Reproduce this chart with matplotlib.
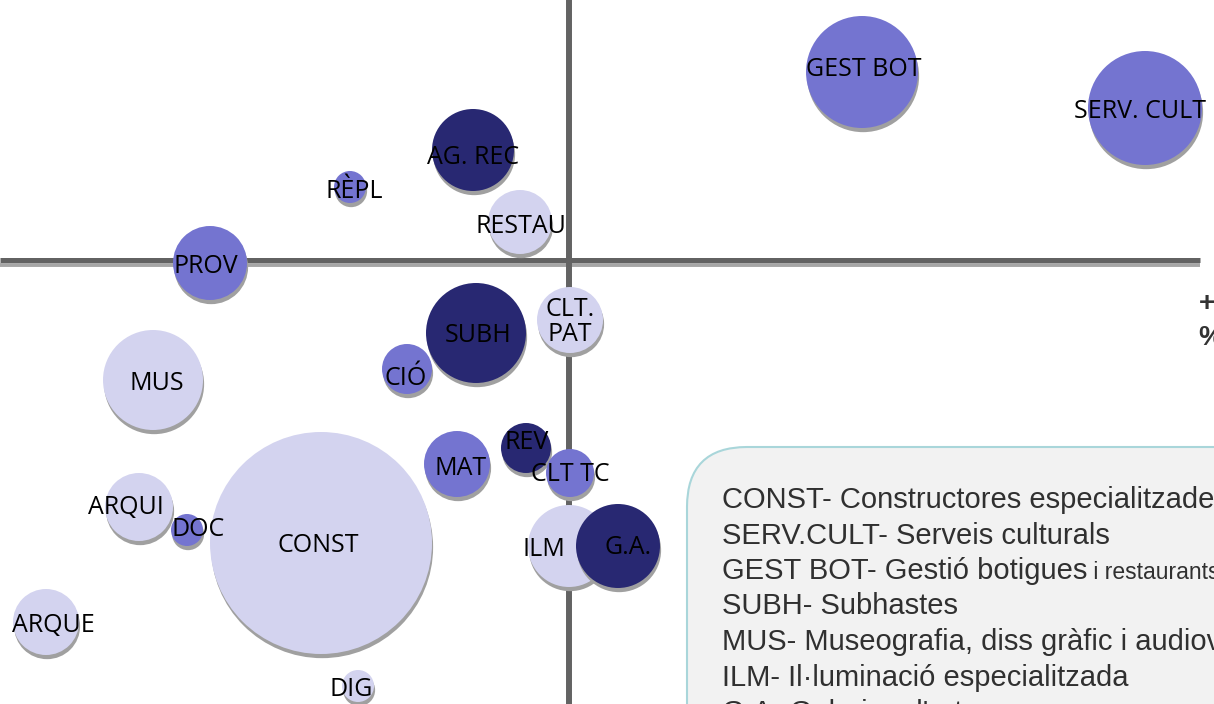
import matplotlib
matplotlib.use("Agg")
import matplotlib.pyplot as plt
from matplotlib.patches import Circle, FancyBboxPatch
from matplotlib.transforms import offset_copy

plt.rcParams['font.family'] = ['Open Sans', 'DejaVu Sans']

# bubble data (x, y relative to the quadrant cross, radius in the same units)
labels = ["GEST BOT", "SERV. CULT", "AG. REC", "RÈPL", "RESTAU", "PROV", "MUS",
          "SUBH", "CLT.\nPAT", "CIÓ", "MAT", "REV", "CLT TC", "ILM", "G.A.",
          "CONST", "ARQUI", "DOC", "ARQUE", "DIG"]
x = [29.3, 57.6, -9.6, -21.9, -4.9, -35.9, -41.6, -9.3, 0.1, -16.2,
     -11.2, -4.3, 0.1, 0.0, 4.9, -24.8, -43.0, -38.2, -52.3, -21.1]
y = [18.8, 15.2, 11.0, 7.3, 3.8, -0.3, -12.0, -7.3, -6.0, -10.9,
     -20.4, -18.8, -21.3, -28.6, -28.6, -28.3, -24.7, -27.0, -36.2, -42.6]
radius = [5.6, 5.7, 4.1, 1.6, 3.2, 3.7, 5.0, 5.0, 3.3, 2.5,
          3.3, 2.5, 2.4, 4.1, 4.2, 11.1, 3.4, 1.6, 3.3, 1.6]
group = [1, 1, 2, 1, 0, 1, 0, 2, 0, 1, 1, 2, 1, 0, 2, 0, 0, 1, 0, 0]

legend_lines = [
    ("CONST- Constructores especialitzades", ""),
    ("SERV.CULT- Serveis culturals", ""),
    ("GEST BOT- Gestió botigues", " i restaurants"),
    ("SUBH- Subhastes", ""),
    ("MUS- Museografia, diss gràfic i audiovisual", ""),
    ("ILM- Il·luminació especialitzada", ""),
    ("G.A- Galeries d'art", ""),
]

colors = ['#d3d3ef', '#7474d0', '#282872']
# label nudges in pixels (right, down)
label_dx = [2, -5, 0, 4, 1, -4, 4, 2, 0, -1, 4, 1, 0, -25, 10, -3, -13, 11, 7, -7]
label_dy = [-3, 4, 7, 5, 4, 3, 3, 2, 2, 9, 4, -6, 1, 4, 2, 2, 0, 0, 4, 4]

fig = plt.figure(figsize=(12.14, 7.04), dpi=100)
ax = fig.add_axes([0, 0, 1, 1])
ax.set_xlim(-56.9, 64.5)
ax.set_ylim(-44.4, 26.0)
ax.axis('off')

# quadrant lines with shadow
sh = offset_copy(ax.transData, fig=fig, x=0, y=-3.6, units='points')
ax.plot([-56.9, 63.1], [0, 0], color='#a6a6a6', lw=2.8, transform=sh,
        solid_capstyle='butt', zorder=1)
ax.plot([-56.9, 63.1], [0, 0], color='#626262', lw=3.6, solid_capstyle='butt', zorder=2)
ax.axvline(0, color='#636363', lw=4.3, zorder=2)

# bubbles
shadow = offset_copy(ax.transData, fig=fig, x=0.8, y=-3.0, units='points')
for i in range(len(labels)):
    ax.add_patch(Circle((x[i], y[i]), radius[i], facecolor='#a0a0a0',
                        edgecolor='none', transform=shadow, zorder=3 + 2 * i))
    ax.add_patch(Circle((x[i], y[i]), radius[i], facecolor=colors[group[i]],
                        edgecolor='none', zorder=4 + 2 * i))

for i, lab in enumerate(labels):
    ax.annotate(lab, (x[i], y[i]), xytext=(label_dx[i], -label_dy[i]),
                textcoords='offset pixels', ha='center', va='center',
                fontsize=18, color='black', linespacing=1.0, zorder=100)

# legend box
box = FancyBboxPatch((11.8, -60), 70, 41.3,
                     boxstyle="round,pad=0,rounding_size=6",
                     facecolor='#f2f2f2', edgecolor='#a9d6da', lw=1.5, zorder=90)
ax.add_patch(box)
renderer = fig.canvas.get_renderer()
for i, (main, small) in enumerate(legend_lines):
    yb = -24.8 - 3.55 * i
    t = ax.text(15.3, yb, main, fontsize=21, color='#303030', va='baseline',
                family=['Liberation Sans', 'DejaVu Sans'], zorder=95)
    if small:
        bb = t.get_window_extent(renderer)
        xr = ax.transData.inverted().transform((bb.x1, 0))[0]
        ax.text(xr, yb, small, va='baseline', fontsize=16.5, color='#303030',
                family=['Liberation Sans', 'DejaVu Sans'], zorder=95)

ax.text(63.8, -4.4, "+", fontsize=20, fontweight='bold', color='#333333',
        ha='center', va='center', family=['Liberation Sans', 'DejaVu Sans'])
ax.text(64.2, -7.8, "%", fontsize=20, fontweight='bold', color='#333333',
        ha='center', va='center', family=['Liberation Sans', 'DejaVu Sans'])

fig.savefig('out.png', dpi=100)
